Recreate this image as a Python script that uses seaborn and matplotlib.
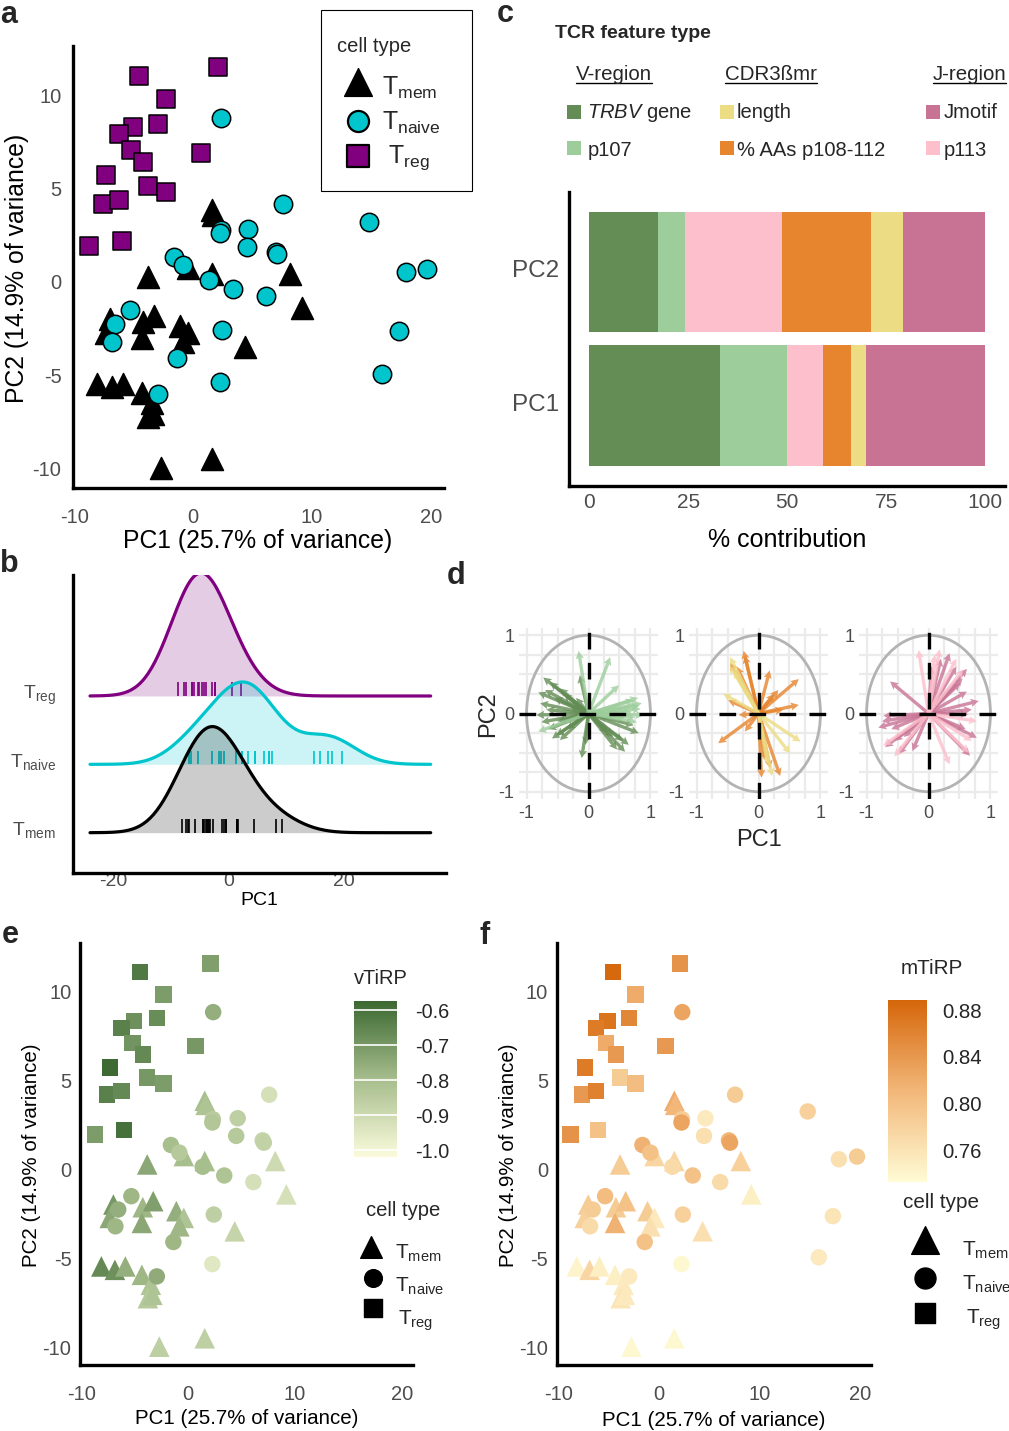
import numpy as np
import pandas as pd
import seaborn as sns
import matplotlib.pyplot as plt
from matplotlib.colors import LinearSegmentedColormap, Normalize
from matplotlib.cm import ScalarMappable
from matplotlib.patches import Ellipse, Rectangle
from matplotlib.transforms import ScaledTranslation

nan = np.nan

# PC scores per cell type (panel a, reused in b, e, f)
mem_pc1 = [1.54, 1.63, -3.85, -0.42, 1.54, 8.15, 9.19, -7.02, -7.36, -4.27, -3.29, -1.12, -0.42,
           -0.84, -4.35, 4.35, -8.15, -6.88, -5.90, -4.35, -3.51, -3.79, -3.37, -2.72, 1.54]
mem_pc2 = [3.51, 3.28, -0.06, 0.41, 0.13, 0.13, -1.74, -2.31, -3.06, -2.46, -2.12, -2.68, -3.06,
           -3.53, -3.34, -3.81, -5.78, -5.97, -5.78, -6.25, -6.81, -7.56, -7.37, -10.28, -9.81]
naive_pc1 = [2.33, 7.58, 14.8, 2.30, 2.25, 4.63, 4.49, 6.97, 7.08, -1.63, -0.84, 1.35, 3.37,
             6.10, 17.9, 19.7, -5.34, -6.57, -6.83, 2.39, -1.40, 2.25, 17.3, 15.9, -2.95]
naive_pc2 = [8.48, 3.85, 2.91, 2.48, 2.29, 2.53, 1.54, 1.29, 1.16, 1.03, 0.60, -0.19, -0.68,
             -1.05, 0.23, 0.38, -1.84, -2.59, -3.53, -2.87, -4.41, -5.65, -2.96, -5.27, -6.34]
treg_pc1 = [-4.55, 2.10, -2.33, -2.95, -5.11, -6.26, -5.25, -4.27, 0.67, -7.36, -3.85, -2.33,
            -7.64, -6.26, -8.76, -6.04]
treg_pc2 = [10.73, 11.20, 9.46, 8.16, 7.97, 7.58, 6.74, 6.10, 6.57, 5.38, 4.82, 4.48,
            3.85, 4.07, 1.63, 1.86]

# TiRP scores (point colour in e and f)
mem_vtirp = [-0.80, -0.82, -0.74, -0.80, -0.80, -0.90, -0.92, -0.70, -0.74, -0.78, -0.72, -0.76, -0.82,
             -0.78, -0.74, -0.88, -0.66, -0.68, -0.76, -0.78, -0.82, -0.84, -0.82, -0.86, -0.86]
naive_vtirp = [-0.76, -0.92, nan, -0.85, -0.83, -0.86, -0.84, -0.88, -0.87, -0.80, -0.84, -0.80, -0.82,
               -0.92, nan, nan, -0.78, -0.76, -0.78, -0.86, -0.78, -0.95, nan, nan, -0.75]
treg_vtirp = [-0.62, -0.72, -0.71, -0.67, -0.68, -0.64, -0.69, -0.66, -0.70, -0.58, -0.70, -0.71,
              -0.64, -0.66, -0.71, -0.60]
mem_mtirp = [0.822, 0.810, 0.787, 0.776, 0.776, 0.782, 0.747, 0.787, 0.782, 0.787, 0.799, 0.787, 0.753,
             0.764, 0.816, 0.764, 0.741, 0.776, 0.747, 0.747, 0.753, 0.759, 0.753, 0.736, 0.736]
naive_mtirp = [0.828, 0.787, 0.782, 0.787, 0.828, 0.753, 0.764, 0.810, 0.828, 0.816, 0.799, 0.770, 0.799,
               0.770, 0.764, 0.787, 0.805, 0.787, 0.770, 0.782, 0.799, 0.736, 0.759, 0.753, 0.753]
treg_mtirp = [0.885, 0.845, 0.822, 0.856, 0.874, 0.868, 0.822, 0.839, 0.839, 0.868, 0.787, 0.805,
              0.839, 0.862, 0.845, 0.799]

# panel c: % contribution of each TCR feature
features = ['TRBV gene', 'p107', 'p113', '% AAs p108-112', 'length', 'Jmotif']
feat_colors = ['#638d55', '#9dcd9b', '#fdbfcc', '#e6852d', '#ecdc83', '#c97394']
contrib_pc1 = [33.0, 16.9, 9.2, 7.1, 3.6, 30.2]
contrib_pc2 = [17.4, 6.8, 24.4, 22.5, 8.2, 20.7]

# panel d: loading vectors (arrow tips)
trbv_x = [-0.73, -0.81, -0.78, -0.84, -0.76, -0.59, -0.46, -0.11, 0.46, 0.59, 0.81, 0.73, -0.14, -0.46,
          -0.62, -0.70, -0.55, -0.65, -0.50, -0.40, -0.30, -0.68, -0.52, 0.40, 0.55, 0.30, -0.05, -0.20,
          0.65, -0.35]
trbv_y = [0.46, 0.27, 0.13, -0.02, -0.11, -0.32, -0.34, -0.57, -0.46, -0.49, -0.25, -0.15, 0.49, 0.32,
          0.40, 0.30, 0.20, -0.20, -0.10, 0.25, 0.10, 0.05, -0.28, -0.30, -0.35, -0.25, -0.40, 0.20,
          -0.40, -0.20]
p107_x = [-0.16, 0.35, 0.49, 0.86, 0.84, 0.89, 0.78, 0.73, 0.80, 0.70, -0.81, 0.60, 0.75, 0.82]
p107_y = [0.80, 0.72, 0.36, 0.13, 0.06, -0.02, -0.11, 0.17, 0.20, 0.02, -0.23, -0.05, -0.05, 0.10]
aas_x = [-0.24, -0.22, 0.18, 0.65, 0.32, 0.65, -0.65, -0.22, 0.05, 0.35, 0.19, -0.49, -0.32, -0.46,
         0.40, 0.25, -0.35, 0.10]
aas_y = [0.80, 0.74, 0.55, 0.44, 0.30, 0.11, -0.38, -0.23, -0.82, -0.80, -0.70, 0.17, -0.02, 0.65,
         0.05, 0.25, 0.60, -0.60]
len_x = [-0.46, -0.46, -0.57, 0.68, 0.51, 0.22, -0.40, 0.15]
len_y = [0.72, 0.61, 0.25, -0.36, -0.51, -0.80, 0.55, -0.65]
jmot_x = [-0.62, 0.34, 0.62, 0.81, 0.78, 0.67, -0.73, -0.81, -0.70, -0.48, -0.26, 0.51, 0.64, 0.62,
          0.20, 0.55, -0.60, -0.55, -0.40, 0.70, 0.45, -0.75, 0.05, 0.60]
jmot_y = [0.41, 0.77, 0.57, 0.16, -0.31, -0.54, -0.03, -0.18, -0.43, -0.52, -0.48, 0.39, -0.01, 0.28,
          0.70, 0.45, -0.20, -0.35, -0.30, 0.05, 0.60, -0.10, 0.60, -0.20]
p113_x = [-0.16, 0.18, 0.56, 0.78, 0.70, 0.34, -0.73, 0.45, 0.65, -0.55, 0.10]
p113_y = [0.81, 0.82, 0.56, -0.10, -0.35, -0.65, -0.41, 0.70, -0.50, -0.55, 0.75]

df = pd.DataFrame({
    'PC1': mem_pc1 + naive_pc1 + treg_pc1,
    'PC2': mem_pc2 + naive_pc2 + treg_pc2,
    'vTiRP': mem_vtirp + naive_vtirp + treg_vtirp,
    'mTiRP': mem_mtirp + naive_mtirp + treg_mtirp,
    'cell': ['mem'] * len(mem_pc1) + ['naive'] * len(naive_pc1) + ['reg'] * len(treg_pc1),
})

sns.set_style('white')
plt.rcParams['font.family'] = ['Liberation Sans', 'DejaVu Sans']
plt.rcParams['mathtext.fontset'] = 'custom'
plt.rcParams['mathtext.rm'] = 'Liberation Sans'
plt.rcParams['mathtext.it'] = 'Liberation Sans:italic'
plt.rcParams['axes.unicode_minus'] = False

W, H = 1009, 1431
GRAY = '#4d4d4d'
cell_col = {'mem': 'black', 'naive': '#00c5cd', 'reg': '#800080'}
cell_mk = {'mem': '^', 'naive': 'o', 'reg': 's'}
size_a = {'mem': 250, 'naive': 175, 'reg': 160}
size_ef = {'mem': 220, 'naive': 140, 'reg': 140}
TLAB = {'mem': r'$\mathrm{T}_{\mathrm{mem}}$', 'naive': r'$\mathrm{T}_{\mathrm{naive}}$',
        'reg': r'$\mathrm{T}_{\mathrm{reg}}$'}

fig = plt.figure(figsize=(W / 100, H / 100), dpi=100)


def box(l, t, r, b):
    return [l / W, 1 - b / H, (r - l) / W, (b - t) / H]


def gg_axes(ax, lw=2.4):
    for s in ['top', 'right']:
        ax.spines[s].set_visible(False)
    for s in ['left', 'bottom']:
        ax.spines[s].set_linewidth(lw)
        ax.spines[s].set_color('black')
    ax.tick_params(color='#333333', labelcolor=GRAY, length=2.5, width=1.6)


def put_labels(ax, px, xl, xpos, yl, ypos, fs):
    l, t, r, b = px
    ax.set_xlabel(xl, fontsize=fs, color='black')
    ax.xaxis.set_label_coords((xpos[0] - l) / (r - l), (b - xpos[1]) / (b - t))
    ax.xaxis.label.set_va('center')
    ax.set_ylabel(yl, fontsize=fs, color='black')
    ax.yaxis.set_label_coords((ypos[0] - l) / (r - l), (b - ypos[1]) / (b - t))
    ax.yaxis.label.set_va('center')


def shift_ylabels(ax, dy_px):
    off = ScaledTranslation(0, -dy_px / 100, fig.dpi_scale_trans)
    for lab in ax.get_yticklabels():
        lab.set_transform(lab.get_transform() + off)


def style_scatter(ax, fs, xpad, ypad):
    ax.set_xlim(-10.17, 21.08)
    ax.set_ylim(-11.33, 12.34)
    ax.set_xticks([-10, 0, 10, 20])
    ax.set_yticks([-10, -5, 0, 5, 10])
    gg_axes(ax)
    ax.tick_params(labelsize=fs)
    ax.tick_params(axis='x', pad=xpad)
    ax.tick_params(axis='y', pad=ypad)
    shift_ylabels(ax, 6)


# ---------------- panel a ----------------
pa = (72.6, 45.5, 443.5, 487.6)
ax_a = fig.add_axes(box(*pa))
for cell in ['mem', 'naive', 'reg']:
    sub = df[df['cell'] == cell]
    sns.scatterplot(data=sub, x='PC1', y='PC2', marker=cell_mk[cell], s=size_a[cell],
                    color=cell_col[cell], edgecolor='black', linewidth=1.1, ax=ax_a, legend=False, zorder=3)
style_scatter(ax_a, 14.5, 12, 5.5)
put_labels(ax_a, pa, 'PC1 (25.7% of variance)', (258, 541), 'PC2 (14.9% of variance)', (17, 268), 17.8)

# ---------------- panel b (ridges) ----------------
pb = (72.7, 575, 445.7, 873.3)
ax_b = fig.add_axes(box(*pb))
ax_b.set_xlim(-27.0, 37.6)
ax_b.set_ylim(0.406, 4.77)
gg_axes(ax_b)
ax_b.set_xticks([-20, 0, 20])
ax_b.set_yticks([1, 2, 3])
ax_b.set_yticklabels([TLAB['mem'], TLAB['naive'], TLAB['reg']])
ax_b.tick_params(axis='x', length=0, pad=0, labelsize=14)
ax_b.tick_params(axis='y', length=2, pad=10, labelsize=14)
shift_ylabels(ax_b, -5)
put_labels(ax_b, pb, 'PC1', (259.5, 900), '', (20, 700), 14)

BW = 4.4
ridges = [('reg', treg_pc1, 3), ('naive', naive_pc1, 2), ('mem', mem_pc1, 1)]
scale = None
for i, (cell, vals, base) in enumerate(ridges):
    rax = fig.add_axes(box(*pb), zorder=2 + i)
    rax.patch.set_alpha(0)
    rax.axis('off')
    bwm = BW / np.std(vals, ddof=1)
    sns.kdeplot(x=vals, bw_method=bwm, cut=20, clip=(-24, 35), fill=True, color=cell_col[cell],
                alpha=0.2, linewidth=0, ax=rax)
    sns.kdeplot(x=vals, bw_method=bwm, cut=20, clip=(-24, 35), color=cell_col[cell],
                linewidth=2.3, ax=rax)
    if scale is None:
        scale = 1.8 / rax.lines[-1].get_ydata().max()
    rax.set_xlim(-27.0, 37.6)
    rax.set_ylim((0.406 - base) / scale, (4.77 - base) / scale)
    rax.vlines(vals, 0, 0.2 / scale, color=cell_col[cell], lw=1.2)

# ---------------- panel c ----------------
pc = (569.3, 191.7, 1005, 485.7)
ax_c = fig.add_axes(box(*pc))
left1, left2 = 0.0, 0.0
for f, col, v1, v2 in zip(features, feat_colors, contrib_pc1, contrib_pc2):
    ax_c.barh(0, v1, left=left1, height=0.9, color=col, lw=0)
    ax_c.barh(1, v2, left=left2, height=0.9, color=col, lw=0)
    left1 += v1
    left2 += v2
ax_c.set_xlim(-5, 105)
ax_c.set_ylim(-0.6, 1.6)
gg_axes(ax_c)
ax_c.set_xticks([0, 25, 50, 75, 100])
ax_c.set_yticks([0, 1])
ax_c.set_yticklabels(['PC1', 'PC2'])
ax_c.tick_params(axis='x', labelsize=15, pad=2.5)
ax_c.tick_params(axis='y', labelsize=17.5, pad=4.5)
shift_ylabels(ax_c, -3)
put_labels(ax_c, pc, '% contribution', (787, 540), '', (500, 340), 18)

# ---------------- panel d ----------------
d_sets = [
    [(trbv_x, trbv_y, feat_colors[0]), (p107_x, p107_y, feat_colors[1])],
    [(aas_x, aas_y, feat_colors[3]), (len_x, len_y, feat_colors[4])],
    [(jmot_x, jmot_y, feat_colors[5]), (p113_x, p113_y, feat_colors[2])],
]
for k, sets in enumerate(d_sets):
    cx = 588.5 + 170 * k
    ax = fig.add_axes(box(cx - 69.4, 713.5 - 85.3, cx + 69.4, 713.5 + 85.3))
    ax.set_xlim(-1.12, 1.12)
    ax.set_ylim(-1.09, 1.09)
    ax.set_xticks([-1, -0.5, 0, 0.5, 1])
    ax.set_xticklabels(['-1', '', '0', '', '1'])
    ax.set_yticks([-1, -0.5, 0, 0.5, 1])
    ax.set_yticklabels(['-1', '', '0', '', '1'])
    ax.set_xticks([-0.75, -0.25, 0.25, 0.75], minor=True)
    ax.set_yticks([-0.75, -0.25, 0.25, 0.75], minor=True)
    ax.grid(True, which='both', color='#ebebeb', lw=1.6)
    ax.set_axisbelow(True)
    for sp in ax.spines.values():
        sp.set_visible(False)
    ax.tick_params(which='major', length=2.5, width=1.4, color='#333333', labelsize=13,
                   labelcolor=GRAY)
    ax.tick_params(axis='x', pad=2)
    ax.tick_params(axis='y', pad=1)
    ax.tick_params(which='minor', length=0)
    ax.add_patch(Ellipse((0, 0), 2, 2, fill=False, ec='#b3b3b3', lw=2.0, zorder=1))
    for xs, ys, col in sets:
        ax.quiver(np.zeros(len(xs)), np.zeros(len(xs)), xs, ys, angles='xy', scale_units='xy', scale=1,
                  color=col, alpha=0.8, width=0.024, headwidth=2.5, headlength=2.4, headaxislength=2.1,
                  zorder=2)
    ax.axhline(0, color='black', lw=2.4, ls=(0, (5, 4)), zorder=3)
    ax.axvline(0, color='black', lw=2.4, ls=(0, (5, 4)), zorder=3)

# ---------------- panels e and f ----------------
cmap_v = LinearSegmentedColormap.from_list('vtirp', ['#fbfbdc', '#a6bd8c', '#3b6831'])
cmap_m = LinearSegmentedColormap.from_list('mtirp', ['#fffbd5', '#f2b779', '#d5660a'])
norm_v = Normalize(-1.02, -0.574)
norm_m = Normalize(0.7326, 0.8886)

pe = (79.8, 943.3, 413.2, 1365.4)
pf = (556.5, 943.3, 870.9, 1365.4)
for px, hue, cmap, norm, lab_x in [(pe, 'vTiRP', cmap_v, norm_v, (246.7, 1419)),
                                    (pf, 'mTiRP', cmap_m, norm_m, (714, 1420))]:
    ax = fig.add_axes(box(*px))
    for cell in ['mem', 'naive', 'reg']:
        sub = df[df['cell'] == cell].dropna(subset=[hue])
        sns.scatterplot(data=sub, x='PC1', y='PC2', hue=hue, palette=cmap, hue_norm=norm,
                        marker=cell_mk[cell], s=size_ef[cell], linewidth=0, ax=ax, legend=False, zorder=3)
    style_scatter(ax, 14.5, 11.5, 3.5)
    put_labels(ax, px, 'PC1 (25.7% of variance)', lab_x, 'PC2 (14.9% of variance)',
               (px[0] - 48, 1155), 14.8)

cax_e = fig.add_axes(box(354, 1001, 397, 1157))
cb_e = fig.colorbar(ScalarMappable(norm=norm_v, cmap=cmap_v), cax=cax_e)
cb_e.outline.set_visible(False)
cb_e.set_ticks([-1.0, -0.9, -0.8, -0.7, -0.6])
cb_e.set_ticklabels(['-1.0', '-0.9', '-0.8', '-0.7', '-0.6'])
cax_e.tick_params(length=0, labelsize=14.3, pad=13)
for v in [-1.0, -0.9, -0.8, -0.7, -0.6]:
    cax_e.axhline(v, color='white', lw=1.2)

cax_f = fig.add_axes(box(887.6, 1000, 927, 1182))
cb_f = fig.colorbar(ScalarMappable(norm=norm_m, cmap=cmap_m), cax=cax_f)
cb_f.outline.set_visible(False)
cb_f.set_ticks([0.76, 0.80, 0.84, 0.88])
cb_f.set_ticklabels(['0.76', '0.80', '0.84', '0.88'])
cax_f.tick_params(length=0, labelsize=14.7, pad=11)

# ---------------- overlay: legends and panel letters ----------------
ov = fig.add_axes([0, 0, 1, 1], zorder=20)
ov.set_xlim(0, W)
ov.set_ylim(H, 0)
ov.axis('off')

for letter, x, y in [('a', 0, 23), ('b', 0, 572), ('c', 497, 22.5), ('d', 447, 584), ('e', 2, 943), ('f', 480, 944)]:
    ov.text(x, y, letter, fontsize=22, fontweight='bold', va='baseline', ha='left')

# legend a
ov.add_patch(Rectangle((320.7, 9.8), 151, 181.2, fill=False, ec='black', lw=0.8))
ov.text(337, 46.3, 'cell type', fontsize=14.5, va='center', ha='left')
ov.scatter([358.3], [82.4], marker='^', s=400, color='black')
ov.scatter([358.3], [121], marker='o', s=230, color=cell_col['naive'], edgecolor='black', linewidth=1.6)
ov.scatter([358.3], [156], marker='s', s=230, color=cell_col['reg'], edgecolor='black', linewidth=1.6)
ov.text(381.7, 94.7, TLAB['mem'], fontsize=18, va='baseline')
ov.text(381.7, 129.8, TLAB['naive'], fontsize=18, va='baseline')
ov.text(388, 163, TLAB['reg'], fontsize=18, va='baseline')

# legend e
ov.text(354, 978, 'vTiRP', fontsize=14.4, va='center', ha='left')
ov.text(403, 1210, 'cell type', fontsize=14.6, va='center', ha='center')
ov.scatter([370.7], [1246.7], marker='^', s=243, color='black')
ov.scatter([372.7], [1278.3], marker='o', s=162, color='black')
ov.scatter([372.7], [1308.3], marker='s', s=162, color='black')
ov.text(395, 1258.3, TLAB['mem'], fontsize=15, va='baseline')
ov.text(395, 1291.7, TLAB['naive'], fontsize=15, va='baseline')
ov.text(398, 1325, TLAB['reg'], fontsize=15, va='baseline')

# legend f
ov.text(901, 969, 'mTiRP', fontsize=14.9, va='center', ha='left')
ov.text(941, 1203, 'cell type', fontsize=14.9, va='center', ha='center')
ov.scatter([924.7], [1240], marker='^', s=398, color='black')
ov.scatter([924.7], [1278], marker='o', s=228, color='black')
ov.scatter([924.7], [1313], marker='s', s=228, color='black')
ov.text(962.5, 1256, TLAB['mem'], fontsize=15, va='baseline')
ov.text(962.5, 1290, TLAB['naive'], fontsize=15, va='baseline')
ov.text(965.8, 1324, TLAB['reg'], fontsize=15, va='baseline')

# legend c
ov.text(555, 33.3, 'TCR feature type', fontsize=14, fontweight='bold', va='center', ha='left')
heads = []
for txt, x in [('V-region', 576), ('CDR3ßmr', 725), ('J-region', 932.7)]:
    heads.append(ov.text(x, 80, txt, fontsize=14.8, va='baseline', ha='left'))
leg_c = [(0, 574, 112, 587.3, 118.3, r'$\mathit{TRBV}$ gene'), (1, 574, 148.3, 587.3, 156, 'p107'),
         (4, 726.7, 112, 736.7, 118.3, 'length'), (3, 726.7, 148.3, 736.7, 156, '% AAs p108-112'),
         (5, 932.7, 112, 943.3, 118.3, 'Jmotif'), (2, 932.7, 148.3, 943.3, 156, 'p113')]
for idx, sx, sy, tx, ty, txt in leg_c:
    ov.add_patch(Rectangle((sx - 7, sy - 7), 14, 14, color=feat_colors[idx], lw=0))
    ov.text(tx, ty, txt, fontsize=14.5, va='baseline', ha='left')

# panel d axis titles
ov.text(488, 714, 'PC2', fontsize=17, rotation=90, va='center', ha='center')
ov.text(758.5, 840, 'PC1', fontsize=17, va='center', ha='center')

fig.canvas.draw()
inv = ov.transData.inverted()
for t in heads:
    bb = t.get_window_extent()
    (x0, _), (x1, _) = inv.transform([(bb.x0, bb.y0), (bb.x1, bb.y1)])
    ov.plot([x0, x1], [83, 83], color='black', lw=1.0)

fig.savefig('out.png', dpi=100)
